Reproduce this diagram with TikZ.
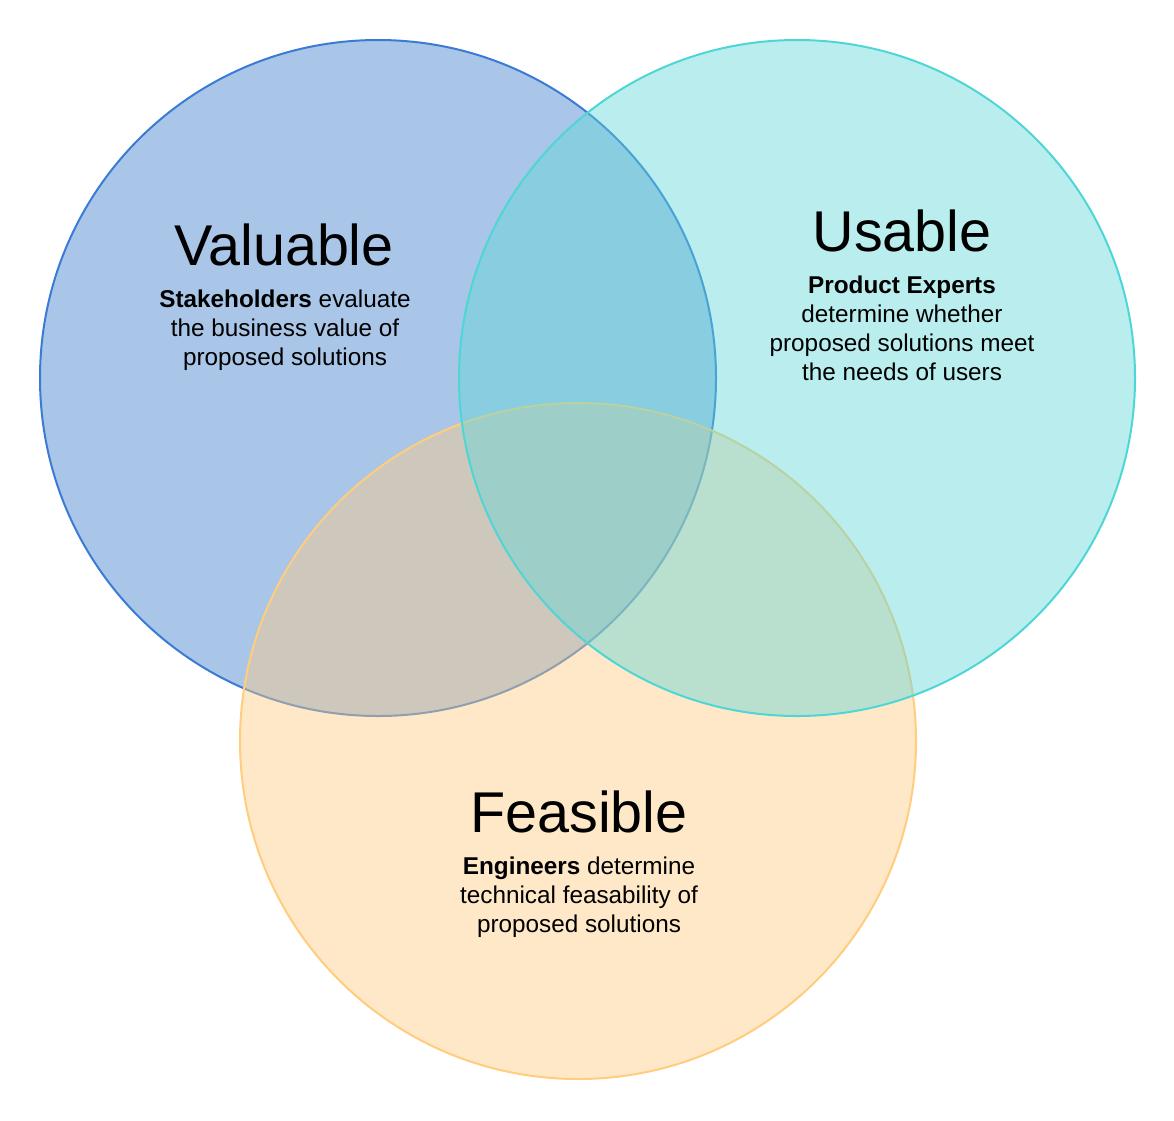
\documentclass[tikz,border=0pt]{standalone}
\usepackage{fontspec}
\setmainfont{Liberation Sans}
\definecolor{bluefill}{RGB}{169,198,232}
\definecolor{bluedraw}{RGB}{58,123,213}
\definecolor{cyanfill}{RGB}{94,215,215}
\definecolor{cyandraw}{RGB}{78,214,214}
\definecolor{orangefill}{RGB}{253,203,130}
\definecolor{orangedraw}{RGB}{255,205,125}
\tikzset{
  title/.style={anchor=base, font=\fontsize{57.5}{62}\selectfont, inner sep=0pt},
  body/.style={anchor=base, font=\fontsize{24.3}{29}\selectfont, inner sep=0pt},
}
\begin{document}
\begin{tikzpicture}[x=1pt,y=-1pt]
\useasboundingbox (0,0) rectangle (1174,1120);
% circles: blue, orange, cyan
\fill[bluefill] (378,378) circle[radius=338];
\draw[bluedraw, line width=2pt] (378,378) circle[radius=338];
\fill[orangefill, fill opacity=0.44] (578,741) circle[radius=338];
\draw[orangedraw, line width=2pt] (578,741) circle[radius=338];
\fill[cyanfill, fill opacity=0.43] (797,378) circle[radius=338];
\draw[cyandraw, line width=2pt] (797,378) circle[radius=338];
% Valuable
\node[title] (vt) at (284,265) {Valuable};
\node[body] (v1) at (285,307) {\textbf{Stakeholders} evaluate};
\node[body] (v2) at (285,336) {the business value of};
\node[body] (v3) at (285,365) {proposed solutions};
% Usable
\node[title] (ut) at (902,251) {Usable};
\node[body] (u1) at (902,293) {\textbf{Product Experts}};
\node[body] (u2) at (902,322) {determine whether};
\node[body] (u3) at (902,351) {proposed solutions meet};
\node[body] (u4) at (902,380) {the needs of users};
% Feasible
\node[title] (ft) at (579,832) {Feasible};
\node[body] (f1) at (579,874) {\textbf{Engineers} determine};
\node[body] (f2) at (579,903) {technical feasability of};
\node[body] (f3) at (579,932) {proposed solutions};
\end{tikzpicture}
\end{document}
